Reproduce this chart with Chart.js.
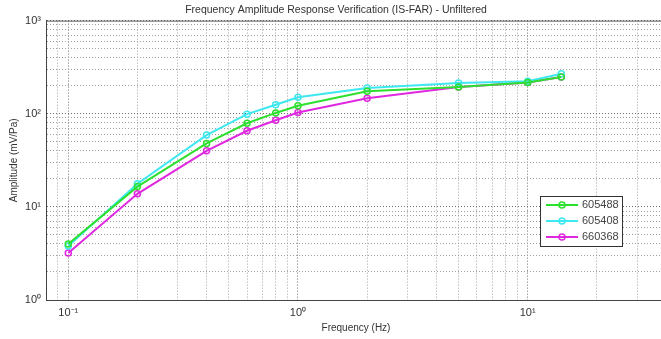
<!DOCTYPE html>
<html>
<head>
<meta charset="utf-8">
<script src="https://cdn.jsdelivr.net/npm/chart.js@4"></script>
<style>
  html, body { margin: 0; padding: 0; background: #fff; overflow: hidden; }
  #wrap { position: relative; width: 672px; height: 339px; }
</style>
</head>
<body>
<div id="wrap"><canvas id="farChart"></canvas></div>
<script>
const frequencies = [0.1, 0.2, 0.4, 0.6, 0.8, 1, 2, 5, 10, 14];
const sensor605488 = [4.0, 16.5, 48, 79, 102, 122, 174, 194, 217, 248];
const sensor605408 = [3.8, 17.7, 59, 99, 125, 150, 189, 214, 223, 269];
const sensor660368 = [3.2, 13.8, 40, 65.6, 85, 103, 147, 194, 217, 248];
const seriesNames = ["605488", "605408", "660368"];
const seriesColors = ["#2ee02e", "#3ee8f0", "#e028e0"];

const sup = { "-": "\u207B", "0": "\u2070", "1": "\u00B9", "2": "\u00B2", "3": "\u00B3" };
const powLabel = (v) => {
  const e = Math.round(Math.log10(v));
  if (Math.abs(Math.log10(v) - e) > 1e-9) return "";
  return "10" + String(e).split("").map((c) => sup[c]).join("");
};
const isMajor = (v) => Math.abs(Math.log10(v) - Math.round(Math.log10(v))) < 1e-9;

const logTicks = (min, max) => {
  const out = [];
  for (let k = -2; k <= 3; k++) {
    for (let m = 1; m <= 9; m++) {
      const v = m * Math.pow(10, k);
      if (v >= min * 0.999 && v <= max * 1.001) out.push({ value: v });
    }
  }
  return out;
};

const makeSeries = (name, values, color) => ({
  label: name,
  data: frequencies.map((f, i) => ({ x: f, y: values[i] })),
  borderColor: color,
  backgroundColor: "transparent",
  borderWidth: 2,
  pointRadius: 3,
  pointBorderWidth: 1.5,
  pointBackgroundColor: "transparent",
  pointBorderColor: color,
  tension: 0,
});

const boxAndLegend = {
  id: "boxAndLegend",
  afterDraw(chart) {
    const { ctx, chartArea } = chart;
    ctx.save();
    ctx.strokeStyle = "#555";
    ctx.lineWidth = 1;
    ctx.beginPath();
    ctx.moveTo(chartArea.left, chartArea.top + 0.5);
    ctx.lineTo(chartArea.right, chartArea.top + 0.5);
    ctx.stroke();

    // legend box
    const lx = 540, ly = 196, lw = 82, lh = 50;
    ctx.fillStyle = "#fff";
    ctx.fillRect(lx, ly, lw, lh);
    ctx.strokeStyle = "#333";
    ctx.strokeRect(lx + 0.5, ly + 0.5, lw, lh);
    ctx.font = "11px 'Liberation Sans', Arial, sans-serif";
    ctx.textBaseline = "middle";
    chart.data.datasets.forEach((ds, i) => {
      const y = ly + 9 + i * 16;
      ctx.strokeStyle = ds.borderColor;
      ctx.lineWidth = 2;
      ctx.beginPath();
      ctx.moveTo(lx + 6, y);
      ctx.lineTo(lx + 38, y);
      ctx.stroke();
      ctx.lineWidth = 1.5;
      ctx.beginPath();
      ctx.arc(lx + 22, y, 3, 0, Math.PI * 2);
      ctx.stroke();
      ctx.fillStyle = "#444";
      ctx.fillText(ds.label, lx + 42, y);
    });
    ctx.restore();
  },
};

const gridColor = (c) => (c.tick && isMajor(c.tick.value) ? "#707070" : "#a0a0a0");

const ctx = document.getElementById("farChart");
new Chart(ctx, {
  type: "line",
  data: {
    datasets: [
      makeSeries(seriesNames[0], sensor605488, seriesColors[0]),
      makeSeries(seriesNames[1], sensor605408, seriesColors[1]),
      makeSeries(seriesNames[2], sensor660368, seriesColors[2]),
    ],
  },
  options: {
    responsive: true,
    maintainAspectRatio: false,
    animation: false,
    layout: { padding: 0 },
    scales: {
      x: {
        type: "logarithmic",
        min: 0.08,
        max: 40,
        afterBuildTicks: (scale) => { scale.ticks = logTicks(0.08, 40); },
        afterFit: (scale) => { scale.height = 39; },
        grid: { color: gridColor, lineWidth: 1, drawTicks: false },
        border: { color: "#444", width: 1, dash: [1, 2] },
        ticks: {
          autoSkip: false,
          maxRotation: 0,
          padding: 6,
          color: "#333",
          font: { size: 11, family: "'Liberation Sans', Arial, sans-serif" },
          callback: (v) => powLabel(v),
        },
        title: {
          display: true,
          text: "Frequency (Hz)",
          color: "#333",
          padding: { top: 0, bottom: 5 },
          font: { size: 10, family: "'Liberation Sans', Arial, sans-serif" },
        },
      },
      y: {
        type: "logarithmic",
        min: 1,
        max: 1000,
        afterBuildTicks: (scale) => { scale.ticks = logTicks(1, 1000); },
        afterFit: (scale) => { scale.width = 46; },
        grid: { color: gridColor, lineWidth: 1, drawTicks: false },
        border: { color: "#444", width: 1, dash: [1, 2] },
        ticks: {
          autoSkip: false,
          padding: 5,
          color: "#333",
          font: { size: 11, family: "'Liberation Sans', Arial, sans-serif" },
          callback: (v) => powLabel(v),
        },
        title: {
          display: true,
          text: "Amplitude (mV/Pa)",
          color: "#333",
          padding: { top: 8, bottom: 0 },
          font: { size: 10, family: "'Liberation Sans', Arial, sans-serif" },
        },
      },
    },
    plugins: {
      legend: { display: false },
      tooltip: { enabled: false },
      title: {
        display: true,
        text: "Frequency Amplitude Response Verification (IS-FAR) - Unfiltered",
        color: "#333",
        padding: { top: 4, bottom: 4 },
        font: { size: 10.5, weight: "normal", family: "'Liberation Sans', Arial, sans-serif" },
      },
    },
  },
  plugins: [boxAndLegend],
});
</script>
</body>
</html>
